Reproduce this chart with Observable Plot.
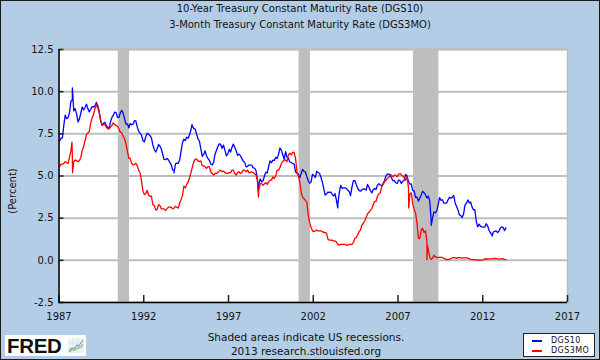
<!DOCTYPE html>
<html>
<head>
<meta charset="utf-8">
<script src="https://cdn.jsdelivr.net/npm/d3@7"></script>
<script src="https://cdn.jsdelivr.net/npm/@observablehq/plot@0.6"></script>
<style>
html,body{margin:0;padding:0;background:#B4CDE6;}
body{width:600px;height:360px;overflow:hidden;font-family:"DejaVu Sans",Verdana,sans-serif;color:#111;}
#wrap{position:relative;width:600px;height:360px;background:#B4CDE6;overflow:hidden;}
#chart{position:absolute;left:0;top:0;}
.t{position:absolute;left:0;width:600px;text-align:center;white-space:nowrap;}
#border{position:absolute;left:0;top:0;width:600px;height:360px;box-sizing:border-box;border:1px solid #1c1c1c;pointer-events:none;}
#ylab{position:absolute;left:12px;top:191px;font-size:10px;transform:translate(-50%,-50%) rotate(-90deg);white-space:nowrap;}
#legend{position:absolute;left:523px;top:333px;width:72px;height:24px;box-sizing:border-box;background:#fff;border:1px solid #222;font-size:8px;letter-spacing:0.4px;}
#legend .row{position:absolute;left:0;height:10px;line-height:10px;}
#legend .sw{position:absolute;left:8px;top:4px;width:10px;height:2px;}
#legend .lb{position:absolute;left:27px;top:0;}
#logo{position:absolute;left:5px;top:335px;width:81px;height:21px;background:#fff;}
#logo span{position:absolute;left:2px;top:-1px;font-family:"Liberation Sans",Arial,sans-serif;font-weight:bold;font-size:20.5px;letter-spacing:-0.3px;color:#111;}
#logo svg{position:absolute;left:63px;top:3px;}
</style>
</head>
<body>
<div id="wrap">
  <div id="chart"></div>
  <div class="t" style="top:3px;font-size:10px;">10-Year Treasury Constant Maturity Rate (DGS10)</div>
  <div class="t" style="top:19px;font-size:10px;">3-Month Treasury Constant Maturity Rate (DGS3MO)</div>
  <div id="ylab">(Percent)</div>
  <div class="t" style="top:331px;left:6px;font-size:10.5px;">Shaded areas indicate US recessions.</div>
  <div class="t" style="top:345px;left:6px;font-size:10.5px;">2013 research.stlouisfed.org</div>
  <div id="logo"><span>FRED</span>
    <svg width="16" height="15" viewBox="0 0 16 15">
      <rect x="0" y="0" width="16" height="15" fill="#eef2f6"/>
      <path d="M0 5H16M0 10H16M5 0V15M10 0V15" stroke="#d0d8e0" stroke-width="0.6"/>
      <polyline points="1,13 4,10 6,11 9,7 11,8 15,2" fill="none" stroke="#6a9fd0" stroke-width="1.2"/>
      <polyline points="1,14 4,12 7,12 10,10 13,9 15,6" fill="none" stroke="#8cbf5a" stroke-width="1.2"/>
    </svg>
  </div>
  <div id="legend">
    <div class="row" style="top:2px;"><div class="sw" style="background:#0000ff"></div><div class="lb">DGS10</div></div>
    <div class="row" style="top:12px;"><div class="sw" style="background:#ff0000"></div><div class="lb">DGS3MO</div></div>
  </div>
  <div id="border"></div>
</div>
<script>
// ---- data (monthly readings from Jan 1987, plus a few visible daily extremes) ----
const startYear = 1987;
const dgs10 = [
  7.08,7.25,7.25,8.02,8.61,8.40,8.45,8.76,9.42,9.52,8.86,8.99,
  8.67,8.21,8.37,8.72,9.09,8.92,9.06,9.26,8.98,8.80,8.96,9.11,
  9.09,9.17,9.36,9.18,8.86,8.28,8.02,8.11,8.19,8.01,7.87,7.84,
  8.21,8.47,8.59,8.79,8.76,8.48,8.47,8.75,8.89,8.72,8.39,8.08,
  8.09,7.85,8.11,8.04,8.07,8.28,8.27,7.90,7.65,7.53,7.42,7.09,
  7.03,7.34,7.54,7.48,7.39,7.26,6.84,6.59,6.42,6.59,6.87,6.77,
  6.60,6.26,5.98,5.97,6.04,5.96,5.81,5.68,5.36,5.33,5.72,5.77,
  5.75,5.97,6.48,6.97,7.18,7.10,7.30,7.24,7.46,7.74,7.96,7.81,
  7.78,7.47,7.20,7.06,6.63,6.17,6.28,6.49,6.20,6.04,5.93,5.71,
  5.65,5.81,6.27,6.51,6.74,6.91,6.87,6.64,6.83,6.53,6.20,6.30,
  6.58,6.42,6.69,6.89,6.71,6.49,6.22,6.30,6.21,6.03,5.88,5.81,
  5.54,5.57,5.65,5.64,5.65,5.50,5.46,5.34,4.81,4.53,4.83,4.65,
  4.72,5.00,5.23,5.18,5.54,5.90,5.79,5.94,5.92,6.11,6.03,6.28,
  6.66,6.52,6.26,5.99,6.44,6.10,6.05,5.83,5.80,5.74,5.72,5.24,
  5.16,5.10,4.89,5.14,5.39,5.28,5.24,4.97,4.73,4.57,4.65,5.09,
  5.04,4.91,5.28,5.21,5.16,4.93,4.65,4.26,3.87,3.94,4.05,4.03,
  4.05,3.90,3.81,3.96,3.57,3.33,3.98,4.45,4.27,4.29,4.30,4.27,
  4.15,4.08,3.83,4.35,4.72,4.73,4.50,4.28,4.13,4.10,4.19,4.23,
  4.22,4.17,4.50,4.34,4.14,4.00,4.18,4.26,4.20,4.46,4.54,4.47,
  4.42,4.57,4.72,4.99,5.11,5.11,5.09,4.88,4.72,4.73,4.60,4.56,
  4.76,4.72,4.56,4.69,4.75,5.10,5.00,4.67,4.52,4.53,4.15,4.10,
  3.74,3.74,3.51,3.68,3.88,4.10,4.01,3.89,3.69,3.81,3.53,2.42,
  2.52,2.87,2.82,2.93,3.29,3.72,3.56,3.59,3.40,3.39,3.40,3.59,
  3.73,3.69,3.73,3.85,3.42,3.20,3.01,2.70,2.65,2.54,2.76,3.29,
  3.39,3.58,3.41,3.46,3.17,3.00,3.00,2.30,1.98,2.15,2.01,1.98,
  1.97,1.97,2.17,2.05,1.80,1.62,1.53,1.68,1.72,1.75,1.65,1.72,
  1.91,1.98,1.96,1.76,1.93
];
const dgs10Extremes = [
  ["1987-10-16",10.23],["1993-10-15",5.19],["1994-11-07",8.05],["1998-10-05",4.16],
  ["2003-06-13",3.11],["2008-12-18",2.08],["2012-07-24",1.43]
];
const dgs3mo = [
  5.55,5.70,5.70,5.75,5.85,5.80,5.75,6.10,6.50,6.30,5.85,5.95,
  5.90,5.85,5.90,6.10,6.50,6.75,7.10,7.45,7.55,7.65,8.15,8.45,
  8.65,9.00,9.25,9.05,8.75,8.35,8.00,8.05,8.05,7.90,7.80,7.80,
  7.90,8.00,8.15,8.05,8.00,7.95,7.80,7.60,7.55,7.35,7.20,6.90,
  6.45,6.05,6.05,5.75,5.65,5.70,5.75,5.60,5.35,5.15,4.70,4.10,
  3.90,3.95,4.15,3.85,3.80,3.80,3.30,3.25,3.00,3.00,3.30,3.25,
  3.05,3.05,3.05,2.95,3.05,3.15,3.15,3.15,3.05,3.10,3.20,3.15,
  3.10,3.40,3.60,3.85,4.40,4.30,4.50,4.65,4.90,5.20,5.55,5.85,
  6.00,6.00,5.90,5.85,5.90,5.60,5.60,5.55,5.45,5.55,5.55,5.25,
  5.15,5.05,5.15,5.15,5.20,5.30,5.35,5.25,5.30,5.20,5.15,5.15,
  5.20,5.20,5.35,5.35,5.15,5.05,5.20,5.25,5.15,5.20,5.35,5.35,
  5.25,5.35,5.20,5.20,5.25,5.20,5.15,5.05,4.75,4.15,4.55,4.55,
  4.45,4.55,4.60,4.50,4.65,4.75,4.75,4.95,4.85,5.00,5.35,5.35,
  5.50,5.75,5.85,5.95,5.95,5.85,6.25,6.35,6.25,6.40,6.40,6.05,
  5.25,5.00,4.65,4.05,3.75,3.65,3.55,3.45,2.70,2.25,1.95,1.75,
  1.70,1.75,1.80,1.75,1.75,1.75,1.70,1.65,1.65,1.60,1.25,1.20,
  1.20,1.20,1.15,1.15,1.10,0.95,0.90,0.95,0.95,0.95,0.95,0.90,
  0.90,0.95,0.95,0.95,1.05,1.30,1.35,1.50,1.70,1.80,2.10,2.20,
  2.35,2.55,2.75,2.85,2.95,3.05,3.30,3.50,3.50,3.80,3.95,4.00,
  4.35,4.50,4.65,4.75,4.85,4.90,5.05,5.05,4.95,5.05,5.05,4.95,
  5.10,5.15,5.05,5.00,4.90,4.75,4.95,4.30,3.95,4.00,3.35,3.05,
  2.80,2.20,1.30,1.30,1.80,1.90,1.65,1.75,1.15,0.65,0.20,0.05,
  0.13,0.30,0.22,0.16,0.18,0.18,0.18,0.17,0.12,0.07,0.05,0.05,
  0.06,0.11,0.15,0.16,0.16,0.12,0.16,0.16,0.15,0.13,0.14,0.14,
  0.15,0.13,0.10,0.06,0.04,0.04,0.04,0.02,0.01,0.02,0.01,0.01,
  0.03,0.09,0.08,0.08,0.09,0.09,0.10,0.10,0.11,0.10,0.09,0.07,
  0.07,0.10,0.09,0.06,0.04
];
const dgs3moExtremes = [
  ["1987-10-07",7.00],["1987-10-20",5.20],["1998-10-09",3.75],
  ["2007-08-20",3.10],["2008-09-17",0.03],["2008-09-26",0.90]
];
const recessionStarts = ["1990-07-01","2001-03-01","2007-12-01"];
const recessionEnds   = ["1991-03-01","2001-11-01","2009-06-01"];
const yTicks = [-2.5, 0, 2.5, 5, 7.5, 10, 12.5];
const xTickYears = [1987, 1992, 1997, 2002, 2007, 2012, 2017];

// ---- build tables ----
const parse = d3.utcParse("%Y-%m-%d");
function buildSeries(monthly, extremes) {
  const pts = monthly.map((v, i) => ({date: new Date(Date.UTC(startYear, i, 15)), value: v}));
  extremes.forEach(([d, v]) => pts.push({date: parse(d), value: v}));
  return pts.sort((a, b) => a.date - b.date);
}
const s10 = buildSeries(dgs10, dgs10Extremes);
const s3 = buildSeries(dgs3mo, dgs3moExtremes);
const recessions = recessionStarts.map((s, i) => ({start: parse(s), end: parse(recessionEnds[i])}));
const xTicks = xTickYears.map(y => new Date(Date.UTC(y, 0, 1)));
const yMin = yTicks[0], yMax = yTicks[yTicks.length - 1];

const W = 600, H = 330, mT = 49, mB = 28, mL = 58.5, mR = 33;
const unitPerPxY = (yMax - yMin) / (H - mT - mB);
const msPerPxX = (xTicks[xTicks.length - 1] - xTicks[0]) / (W - mL - mR);

const chart = Plot.plot({
  width: W, height: H,
  marginTop: mT, marginBottom: mB, marginLeft: mL, marginRight: mR,
  style: {background: "transparent", fontFamily: "DejaVu Sans, Verdana, sans-serif", fontSize: "10px", color: "#111", overflow: "visible"},
  x: {type: "utc", domain: [xTicks[0], xTicks[xTicks.length - 1]], label: null, axis: null},
  y: {domain: [yMin, yMax], label: null, axis: null},
  marks: [
    Plot.frame({fill: "#ffffff", stroke: "#bdbdbd", strokeWidth: 1.5}),
    Plot.gridY(yTicks, {stroke: "#bdbdbd", strokeOpacity: 1, strokeWidth: 2}),
    Plot.rect(recessions, {x1: "start", x2: "end", fill: "#bebebe"}),
    Plot.line(s10, {x: "date", y: "value", stroke: "#0000ff", strokeWidth: 1.3}),
    Plot.line(s3, {x: "date", y: "value", stroke: "#ff0000", strokeWidth: 1.3}),
    // inward tick marks
    Plot.ruleX(xTicks, {x: d => d, y1: yMin, y2: yMin + 7 * unitPerPxY, stroke: "#222", strokeWidth: 1.5}),
    Plot.ruleY(yTicks, {y: d => d, x1: xTicks[0], x2: new Date(+xTicks[0] + 5 * msPerPxX), stroke: "#222", strokeWidth: 1.5}),
    // axis lines (left, bottom)
    Plot.ruleY([yMin], {stroke: "#000", strokeWidth: 1.5}),
    Plot.ruleX([xTicks[0]], {stroke: "#000", strokeWidth: 1.5}),
    Plot.axisX(xTicks, {tickSize: 0, tickPadding: 10, tickFormat: d3.utcFormat("%Y"), label: null, fontSize: 10}),
    Plot.axisY(yTicks, {tickSize: 0, tickPadding: 5.5, tickFormat: d => d.toFixed(1), label: null, fontSize: 10})
  ]
});
document.getElementById("chart").appendChild(chart);
</script>
</body>
</html>
